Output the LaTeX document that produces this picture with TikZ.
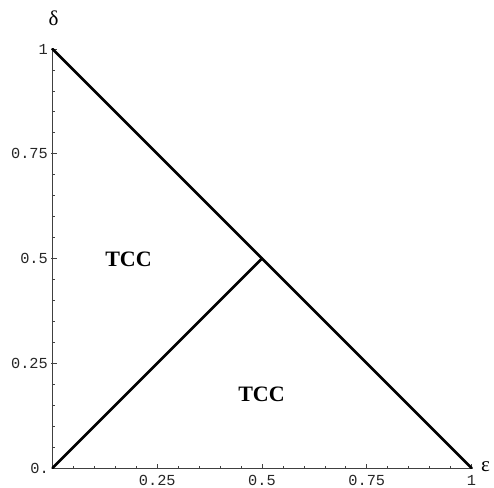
\documentclass[tikz,border=0pt]{standalone}
\usepackage{fontspec}
\setmainfont{Liberation Serif}
\newfontfamily\ticksfont{Liberation Mono}
\begin{document}
\begin{tikzpicture}[x=1pt,y=-1pt,
  axisline/.style={draw=black!75,line width=0.9pt},
  majtick/.style={draw=black!75,line width=0.9pt},
  mintick/.style={draw=black!75,line width=0.7pt},
  bound/.style={draw=black,line width=2.8pt,line cap=round},
  ticklab/.style={font=\ticksfont\fontsize{15.3}{17}\selectfont,text=black!85,inner sep=0pt},
  greek/.style={font=\fontsize{21}{24}\selectfont,inner sep=0pt},
  region/.style={font=\bfseries\fontsize{22}{24}\selectfont,inner sep=0pt}]
\useasboundingbox (0,0) rectangle (494,487);
\def\ox{52.5}\def\oy{468}\def\sc{419}
% axes
\coordinate (O) at (\ox,\oy);
\coordinate (X1) at (\ox+\sc,\oy);
\coordinate (Y1) at (\ox,\oy-\sc);
\coordinate (M) at (\ox+0.5*\sc,\oy-0.5*\sc);
\draw[axisline] (O) -- (X1);
\draw[axisline] (O) -- (Y1);
% minor ticks
\foreach \i in {1,...,19}{
  \draw[mintick] (\ox+\i*0.05*\sc,\oy) -- ++(0,-2.2);
  \draw[mintick] (\ox,\oy-\i*0.05*\sc) -- ++(2.2,0);
}
% major ticks
\foreach \v in {0.25,0.5,0.75,1}{
  \draw[majtick] (\ox+\v*\sc,\oy+0.5) -- ++(0,-4.5);
  \draw[majtick] (\ox-1.5,\oy-\v*\sc) -- ++(5.5,0);
}
% tick labels
\node[ticklab] (xl1) at (\ox+0.25*\sc,480.5) {0.25};
\node[ticklab] (xl2) at (\ox+0.5*\sc,480.5) {0.5};
\node[ticklab] (xl3) at (\ox+0.75*\sc,480.5) {0.75};
\node[ticklab] (xl4) at (\ox+\sc,480.5) {1};
\node[ticklab,anchor=east] (yl0) at (49,\oy) {0.};
\node[ticklab,anchor=east] (yl1) at (48,\oy-0.25*\sc) {0.25};
\node[ticklab,anchor=east] (yl2) at (48,\oy-0.5*\sc) {0.5};
\node[ticklab,anchor=east] (yl3) at (48,\oy-0.75*\sc) {0.75};
\node[ticklab,anchor=east] (yl4) at (48,\oy-\sc) {1};
% axis names
\node[greek] (delta) at (53.5,18.5) {δ};
\node[greek] (eps) at (485.5,467) {ε};
% boundary lines
\draw[bound] (Y1) -- (X1);
\draw[bound] (O) -- (M);
% regions
\node[region] (r1) at (128.5,259.5) {TCC};
\node[region] (r2) at (261.5,394) {TCC};
\end{tikzpicture}
\end{document}
